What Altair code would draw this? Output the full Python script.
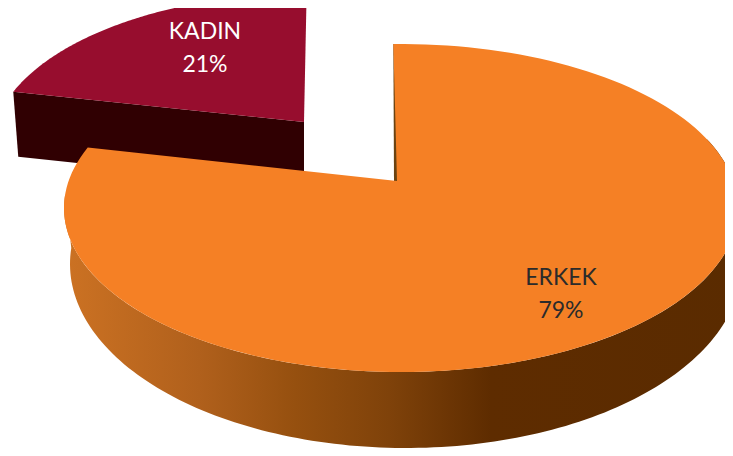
import math
import altair as alt
import pandas as pd

# Values
categories = ["ERKEK", "KADIN"]
shares = [79, 21]

# Page margin offset, so that layout constants read as screenshot pixels
MARGIN = 8

# Layout and styles of the tilted pie
ERKEK_COLOR = "#F58025"
KADIN_COLOR = "#970D2E"
KADIN_SIDE = "#300002"
SLIVER = "#6B4312"
TOP = dict(cx=401, cy=208, rx=337, ry=164)
BOTTOM = dict(cx=406, cy=264, rx=336, ry=184)
KADIN_TOP = dict(cx=312, cy=147, rx=320, ry=154)
ERKEK_APEX = (397, 181)
KADIN_APEX = (304, 122)
ERKEK_START = -1.3    # degrees, clockwise from the top of the ellipse
KADIN_START = -69
ERKEK_TILT = 1.03     # apparent angle stretch by perspective
KADIN_TILT = 0.9
DEPTH = 65


def pt(e, deg):
    t = math.radians(deg)
    return [e["cx"] + e["rx"] * math.sin(t), e["cy"] - e["ry"] * math.cos(t)]


def arc(e, start, sweep, n=160):
    return [pt(e, start + sweep * i / n) for i in range(n + 1)]


def feature(points):
    ring = [list(p) for p in points]
    ring.append(ring[0])
    return {"type": "Feature", "properties": {},
            "geometry": {"type": "Polygon", "coordinates": [ring]}}


erkek_sweep = shares[0] * 3.6 * ERKEK_TILT
kadin_sweep = shares[1] * 3.6 * KADIN_TILT

erkek_arc = arc(TOP, ERKEK_START, erkek_sweep)
erkek_top = feature([ERKEK_APEX] + erkek_arc)

kadin_arc = arc(KADIN_TOP, KADIN_START, kadin_sweep)
kadin_top = feature([KADIN_APEX] + kadin_arc)

kl = kadin_arc[0]
kadin_side = feature([kl, KADIN_APEX,
                      (KADIN_APEX[0], KADIN_APEX[1] + DEPTH),
                      (kl[0] + 5, kl[1] + DEPTH)])

s0 = erkek_arc[0]
sliver = feature([s0, (s0[0] + 1, s0[1]),
                  (ERKEK_APEX[0] + 1, ERKEK_APEX[1]),
                  (ERKEK_APEX[0] - 3, ERKEK_APEX[1])])

side_top = arc(TOP, 65, 210)
side_bottom = arc(BOTTOM, 65, 210)
erkek_side = feature(side_top + side_bottom[::-1])

side_gradient = alt.LinearGradient(
    gradient="linear", x1=0, x2=1, y1=0, y2=0,
    stops=[
        alt.GradientStop(offset=0.0, color="#CC7223"),
        alt.GradientStop(offset=0.2, color="#B0601C"),
        alt.GradientStop(offset=0.34, color="#96500F"),
        alt.GradientStop(offset=0.48, color="#7F420A"),
        alt.GradientStop(offset=0.63, color="#5E2C00"),
        alt.GradientStop(offset=1.0, color="#5A2B00"),
    ],
)


def shape(feat, fill):
    return (alt.Chart(alt.Data(values=[feat]))
            .mark_geoshape(fill=fill, stroke=None, strokeWidth=0)
            .project(type="identity", scale=1, translate=[-MARGIN, -MARGIN]))


def label(text, x, y, color):
    df = pd.DataFrame({"t": [text]})
    return (alt.Chart(df)
            .mark_text(font="Lato", fontSize=23, color=color, align="center", baseline="middle")
            .encode(text="t:N", x=alt.value(x - MARGIN), y=alt.value(y - MARGIN)))


chart = alt.layer(
    shape(kadin_side, KADIN_SIDE),
    shape(kadin_top, KADIN_COLOR),
    shape(sliver, SLIVER),
    shape(erkek_side, side_gradient),
    shape(erkek_top, ERKEK_COLOR),
    label(categories[1], 205, 32, "white"),
    label(f"{shares[1]}%", 205, 65, "white"),
    label(categories[0], 561, 278, "#2B2B2B"),
    label(f"{shares[0]}%", 561, 311, "#2B2B2B"),
).properties(
    width=717, height=440, padding=0,
    autosize=alt.AutoSizeParams(type="none"),
).configure_view(stroke=None)

chart.save("out.html", embed_options={"renderer": "svg", "actions": False})
